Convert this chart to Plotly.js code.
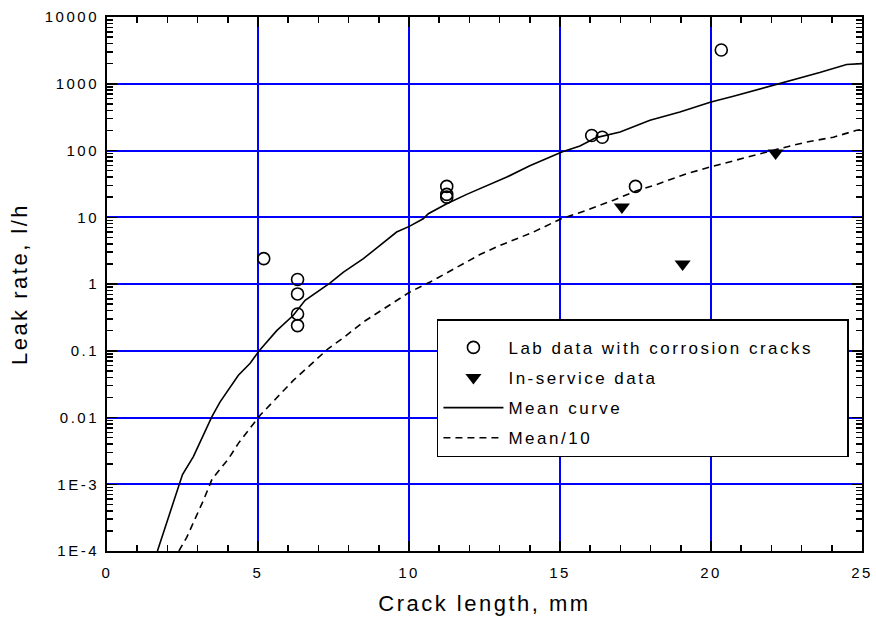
<!DOCTYPE html>
<html>
<head>
<meta charset="utf-8">
<script src="https://cdn.plot.ly/plotly-3.0.1.min.js"></script>
<style>
  html, body { margin: 0; padding: 0; background: #fff; }
  #chart { width: 876px; height: 623px; }
  text { letter-spacing: 2.5px; }
</style>
</head>
<body>
<div id="chart"></div>
<script>
// Lab data with corrosion cracks
var labX = [5.19, 6.31, 6.31, 6.31, 6.31, 11.25, 11.25, 11.25, 16.05, 16.40, 17.50, 20.34];
var labY = [2.4, 1.17, 0.71, 0.356, 0.238, 29, 22, 20, 168, 158, 29, 3200];

// In-service data
var svcX = [17.05, 19.06, 22.14];
var svcY = [14.3, 2.0, 92];

// Mean curve
var meanX = [1.67, 2.5, 2.86, 3.47, 3.74, 4.35, 4.74, 5.04, 5.62, 6.17, 6.56, 7.38, 7.83, 8.49, 9.04, 9.59, 10.01, 10.47, 10.64, 11.25, 11.91, 13.24, 14.0, 15.06, 15.66, 16.2, 16.99, 17.98, 18.97, 20.0, 20.74, 22.28, 23.6, 24.49, 25.0];
var meanY = [1e-4, 1.4e-3, 2.6e-3, 0.0102, 0.017, 0.043, 0.065, 0.1, 0.2, 0.34, 0.57, 1.03, 1.51, 2.4, 3.8, 6.0, 7.3, 9.5, 11.3, 15.9, 22, 40, 59, 95, 117, 156, 189, 283, 378, 533, 649, 1000, 1470, 1940, 2000];

// Mean/10
var tenthX = [2.38, 2.64, 3.19, 3.48, 4.02, 4.35, 5.07, 6.17, 7.33, 7.83, 8.49, 9.7, 10.03, 10.7, 11.25, 11.8, 12.35, 12.9, 13.45, 14.12, 15.06, 15.88, 16.77, 17.54, 18.2, 19.2, 20.0, 21.18, 22.28, 23.17, 24.05, 24.82, 25.0];
var tenthY = [1e-4, 1.6e-4, 5.7e-4, 1.2e-3, 2.4e-3, 4.1e-3, 0.0108, 0.036, 0.108, 0.157, 0.27, 0.6, 0.76, 1.07, 1.46, 2.0, 2.76, 3.6, 4.5, 6.0, 9.6, 12.7, 18, 25, 31, 45, 57, 80, 107, 134, 158, 201, 205];

// Axis ticks
var yTickVals = [1e-4, 1e-3, 0.01, 0.1, 1, 10, 100, 1000, 10000];
var yTickText = ["1E-4", "1E-3", "0.01", "0.1", "1", "10", "100", "1000", "10000"];
var xTickVals = [0, 5, 10, 15, 20, 25];
var xTickText = ["0", "5", "10", "15", "20", "25"];

// Legend labels (trailing no-break spaces only widen the legend box)
var seriesNames = ["Lab data with corrosion cracks\u00a0\u00a0\u00a0\u00a0", "In-service data", "Mean curve", "Mean/10"];

var FONT = "Liberation Sans, Arial, Helvetica, sans-serif";

var traces = [
  {
    x: labX, y: labY, type: "scatter", mode: "markers",
    name: seriesNames[0], legendgroup: "g1",
    marker: { symbol: "circle-open", size: 12, color: "black", line: { color: "black", width: 1.6 } }
  },
  {
    x: svcX, y: svcY, type: "scatter", mode: "markers",
    name: seriesNames[1], legendgroup: "g2",
    marker: { symbol: "triangle-down", size: 14, color: "black" }
  },
  {
    x: meanX, y: meanY, type: "scatter", mode: "lines",
    name: seriesNames[2], legendgroup: "g3",
    line: { color: "black", width: 1.6 }
  },
  {
    x: tenthX, y: tenthY, type: "scatter", mode: "lines",
    name: seriesNames[3], legendgroup: "g4",
    line: { color: "black", width: 1.6, dash: "7px,5px" }
  }
];

var layout = {
  width: 876, height: 623,
  margin: { l: 107, r: 14, t: 17, b: 72 },
  paper_bgcolor: "white", plot_bgcolor: "white",
  font: { family: FONT, color: "black", size: 15 },
  showlegend: true,
  legend: {
    x: 0.437, y: 0.434, xanchor: "left", yanchor: "top",
    bgcolor: "white", bordercolor: "black", borderwidth: 1.5,
    font: { family: FONT, size: 17, color: "black" },
    title: { text: "\u00a0", font: { family: FONT, size: 7 } },
    traceorder: "grouped", tracegroupgap: 5, itemwidth: 60
  },
  xaxis: {
    range: [0, 25],
    tickmode: "array", tickvals: xTickVals, ticktext: xTickText,
    ticks: "inside", ticklen: 10, tickwidth: 1.5, tickcolor: "black",
    ticklabelstandoff: 7,
    showline: true, linewidth: 2, linecolor: "black", mirror: "ticks",
    showgrid: true, gridcolor: "#0000ff", gridwidth: 2,
    zeroline: false,
    tickfont: { family: FONT, size: 15, color: "black" },
    minor: { dtick: 1, ticks: "inside", ticklen: 6, tickwidth: 1.5, tickcolor: "black", showgrid: false },
    title: { text: "Crack length, mm", font: { family: FONT, size: 22, color: "black" }, standoff: 16 }
  },
  yaxis: {
    type: "log", range: [-4, 4],
    tickmode: "array", tickvals: yTickVals, ticktext: yTickText,
    ticks: "inside", ticklen: 10, tickwidth: 1.5, tickcolor: "black",
    ticklabelstandoff: 3,
    showline: true, linewidth: 2, linecolor: "black", mirror: "ticks",
    showgrid: true, gridcolor: "#0000ff", gridwidth: 2,
    zeroline: false,
    tickfont: { family: FONT, size: 15, color: "black" },
    minor: { dtick: "D1", ticks: "inside", ticklen: 6, tickwidth: 1.5, tickcolor: "black", showgrid: false },
    title: { text: "Leak rate, l/h", font: { family: FONT, size: 22, color: "black" }, standoff: 11 }
  }
};

Plotly.newPlot("chart", traces, layout, { displayModeBar: false, staticPlot: true });
</script>
</body>
</html>
